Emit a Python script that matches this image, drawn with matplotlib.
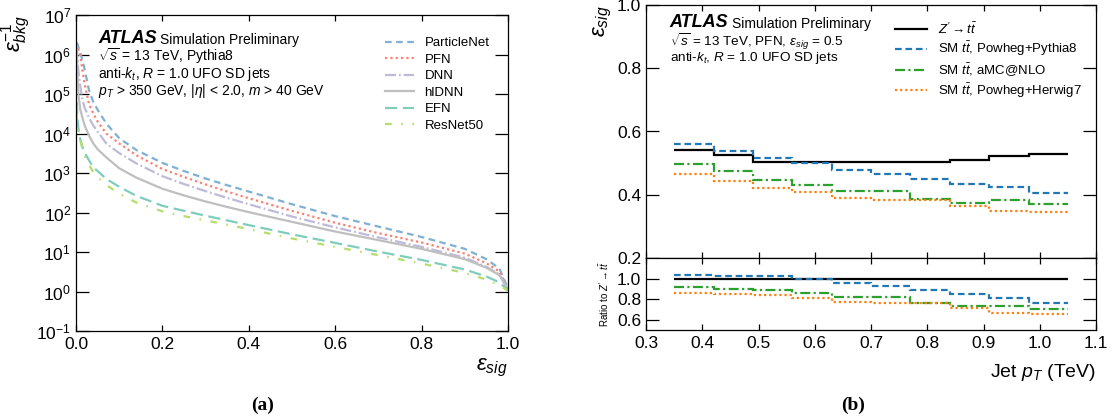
import numpy as np
import matplotlib
matplotlib.use("Agg")
import matplotlib.pyplot as plt

plt.rcParams['font.family'] = ['Liberation Sans', 'DejaVu Sans']
plt.rcParams['mathtext.fontset'] = 'custom'
plt.rcParams['mathtext.rm'] = 'Liberation Sans'
plt.rcParams['mathtext.it'] = 'Liberation Sans:italic'
plt.rcParams['mathtext.bf'] = 'Liberation Sans:bold'

# ---- (a) background rejection vs signal efficiency ----
eps_sig = [0.002, 0.003, 0.006, 0.01, 0.015, 0.02, 0.03, 0.04, 0.05, 0.07, 0.1, 0.14,
           0.2, 0.25, 0.3, 0.35, 0.4, 0.5, 0.6, 0.7, 0.8, 0.9, 0.95, 0.98, 1.0]
particlenet = [2.0e6, 1.9e6, 1.5e6, 1.1e6, 7.1e5, 4.2e5, 1.26e5, 6.3e4, 4.0e4, 1.8e4, 7.6e3, 3.8e3,
               1.8e3, 1.12e3, 724, 490, 339, 162, 81, 44, 24, 12, 6.6, 3.8, 1.2]
pfn = [1.9e6, 1.6e6, 1.26e6, 8.9e5, 4.0e5, 1.8e5, 5.6e4, 3.2e4, 2.0e4, 1.0e4, 5.6e3, 2.8e3,
       1.26e3, 794, 513, 339, 229, 110, 55, 30, 17.4, 9.1, 5.2, 3.2, 1.15]
dnn = [1.6e6, 7.9e5, 3.5e5, 1.55e5, 7.1e4, 4.5e4, 2.5e4, 1.6e4, 1.12e4, 5.6e3, 3.2e3, 1.74e3,
       830, 525, 347, 234, 162, 79, 42, 23.4, 13.5, 7.2, 4.2, 2.7, 1.12]
hldnn = [1.6e6, 4.0e5, 8.9e4, 4.0e4, 2.5e4, 1.6e4, 8.9e3, 5.6e3, 4.0e3, 2.5e3, 1.32e3, 760,
         400, 270, 190, 138, 102, 58, 33, 20, 12, 6.6, 4.0, 2.6, 1.12]
efn = [6.3e4, 2.5e4, 1.26e4, 7.1e3, 4.5e3, 3.3e3, 2.1e3, 1.4e3, 1.12e3, 710, 447, 263,
       148, 110, 83, 63, 48, 28, 17, 10.2, 6.3, 3.6, 2.4, 1.7, 1.07]
resnet50 = [3.2e4, 2.0e4, 1.12e4, 7.1e3, 4.0e3, 2.6e3, 1.6e3, 1.05e3, 790, 500, 300, 178,
            107, 81, 63, 49, 38, 22, 13.5, 8.3, 5.1, 2.95, 2.0, 1.45, 1.05]

# ---- (b) signal efficiency vs jet pT ----
pt_edges = [0.35, 0.42, 0.49, 0.56, 0.63, 0.70, 0.77, 0.84, 0.91, 0.98, 1.05]
zprime = [0.540, 0.526, 0.504, 0.502, 0.502, 0.503, 0.505, 0.511, 0.524, 0.528]
tt_pythia = [0.561, 0.538, 0.517, 0.499, 0.479, 0.466, 0.450, 0.435, 0.424, 0.405]
tt_amcnlo = [0.498, 0.475, 0.447, 0.431, 0.412, 0.411, 0.387, 0.374, 0.384, 0.371]
tt_herwig = [0.466, 0.445, 0.422, 0.409, 0.389, 0.384, 0.384, 0.366, 0.349, 0.346]

fig = plt.figure(figsize=(11.15, 4.19), dpi=100)
W, H = 1115, 419


def rect(x0, y0, x1, y1):
    return [x0 / W, 1 - y1 / H, (x1 - x0) / W, (y1 - y0) / H]


def style_ticks(ax, ylen=9.5, xlen=4.5):
    ax.tick_params(which='both', direction='in', top=True, right=True, labelsize=12.5)
    ax.tick_params(axis='y', length=ylen, width=0.9)
    ax.tick_params(axis='x', length=xlen, width=0.9, pad=4)
    for s in ax.spines.values():
        s.set_linewidth(0.9)


def atlas_label(ax, x, y, lines, ys, size=10):
    t = ax.text(x, y, 'ATLAS', transform=ax.transAxes, fontsize=13,
                fontweight='bold', fontstyle='italic', va='baseline')
    ax.annotate('Simulation Preliminary', xy=(1, 0), xycoords=t, xytext=(2.5, 0),
                textcoords='offset points', fontsize=10, va='bottom')
    for s, yy in zip(lines, ys):
        ax.text(x, yy, s, transform=ax.transAxes, fontsize=size, va='baseline')


# ---------------- panel (a) ----------------
ax = fig.add_axes(rect(76, 15, 508, 331))
curves = [
    (particlenet, 'ParticleNet', '#80b1d3', (0, (3, 2))),
    (pfn, 'PFN', '#fb8072', (0, (1, 1.4))),
    (dnn, 'DNN', '#bebada', (0, (5, 1.3, 0.8, 1.3))),
    (hldnn, 'hlDNN', '#bfbfbf', '-'),
    (efn, 'EFN', '#7fcdbb', (0, (5.5, 2.5))),
    (resnet50, 'ResNet50', '#b3de69', (0, (3, 4.3, 0.7, 4.3))),
]
for vals, lab, col, ls in curves:
    ax.plot(eps_sig, vals, color=col, ls=ls, lw=1.6, label=lab)
ax.set_yscale('log')
ax.set_ylim(1e-1, 1e7)
ax.set_xlim(0, 1)
ax.set_yticks([10.0 ** k for k in range(-1, 8)])
ax.yaxis.set_minor_locator(matplotlib.ticker.NullLocator())
ax.set_xticks([0.0, 0.2, 0.4, 0.6, 0.8, 1.0])
ax.xaxis.set_major_formatter(matplotlib.ticker.FormatStrFormatter('%.1f'))
style_ticks(ax)
ax.set_xlabel(r'$\varepsilon_{sig}$', loc='right', fontsize=16, labelpad=4)
ax.set_ylabel(r'$\varepsilon_{bkg}^{-1}$', loc='top', fontsize=16)
ax.yaxis.set_label_coords(-0.1, 1.0)
atlas_label(ax, 0.051, 0.911,
            [r'$\sqrt{s}$ = 13 TeV, Pythia8',
             r'anti-$k_{t}$, $R$ = 1.0 UFO SD jets',
             r'$p_{T}$ > 350 GeV, |$\eta$| < 2.0, $m$ > 40 GeV'],
            [0.853, 0.801, 0.746])
ax.legend(loc='upper left', bbox_to_anchor=(0.715, 0.93), frameon=False, fontsize=9.5,
          handlelength=2.2, handletextpad=0.8, labelspacing=0.32, borderpad=0,
          borderaxespad=0)

# ---------------- panel (b) ----------------
axm = fig.add_axes(rect(646, 5, 1096, 258))
axr = fig.add_axes(rect(646, 258, 1096, 330), sharex=axm)

series = [
    (zprime, r"$Z' \rightarrow t\bar{t}$", 'black', '-'),
    (tt_pythia, r'SM $t\bar{t}$, Powheg+Pythia8', '#1f77b4', (0, (3, 1.7))),
    (tt_amcnlo, r'SM $t\bar{t}$, aMC@NLO', '#2ca02c', (0, (4.5, 1.5, 1, 1.5))),
    (tt_herwig, r'SM $t\bar{t}$, Powheg+Herwig7', '#ff7f0e', (0, (1, 1.3))),
]
for vals, lab, col, ls in series:
    axm.stairs(vals, pt_edges, color=col, ls=ls, lw=1.6, label=lab, baseline=None)
    ratio = np.array(vals) / np.array(zprime)
    axr.stairs(ratio, pt_edges, color=col, ls=ls, lw=1.6, baseline=None)

axm.set_xlim(0.3, 1.1)
axm.set_ylim(0.2, 1.0)
axm.set_yticks([0.2, 0.4, 0.6, 0.8, 1.0])
axm.yaxis.set_major_formatter(matplotlib.ticker.FormatStrFormatter('%.1f'))
style_ticks(axm)
axm.tick_params(axis='x', labelbottom=False)
axm.set_ylabel(r'$\varepsilon_{sig}$', loc='top', fontsize=16, labelpad=2)
atlas_label(axm, 0.053, 0.913,
            [r'$\sqrt{s}$ = 13 TeV, PFN, $\varepsilon_{sig}$ = 0.5',
             r'anti-$k_{t}$, $R$ = 1.0 UFO SD jets'],
            [0.840, 0.778], size=9.7)
axm.legend(loc='upper left', bbox_to_anchor=(0.553, 0.935), frameon=False, fontsize=9.5,
           handlelength=2.4, handletextpad=0.9, labelspacing=0.22, borderpad=0,
           borderaxespad=0)

axr.set_ylim(0.5, 1.2)
axr.set_yticks([0.6, 0.8, 1.0])
axr.yaxis.set_major_formatter(matplotlib.ticker.FormatStrFormatter('%.1f'))
axr.set_xticks([0.3, 0.4, 0.5, 0.6, 0.7, 0.8, 0.9, 1.0, 1.1])
axr.xaxis.set_major_formatter(matplotlib.ticker.FormatStrFormatter('%.1f'))
style_ticks(axr)
axr.set_ylabel(r"Ratio to $Z' \rightarrow t\bar{t}$", fontsize=7, labelpad=4)
axr.set_xlabel(r'Jet $p_{T}$ (TeV)', loc='right', fontsize=14, labelpad=8)

# captions
fig.text(263 / W, 1 - 405 / H, '(a)', fontsize=14, fontweight='bold',
         family='Liberation Serif', ha='center', va='center')
fig.text(853 / W, 1 - 405 / H, '(b)', fontsize=14, fontweight='bold',
         family='Liberation Serif', ha='center', va='center')

fig.savefig('out.png', dpi=100)
